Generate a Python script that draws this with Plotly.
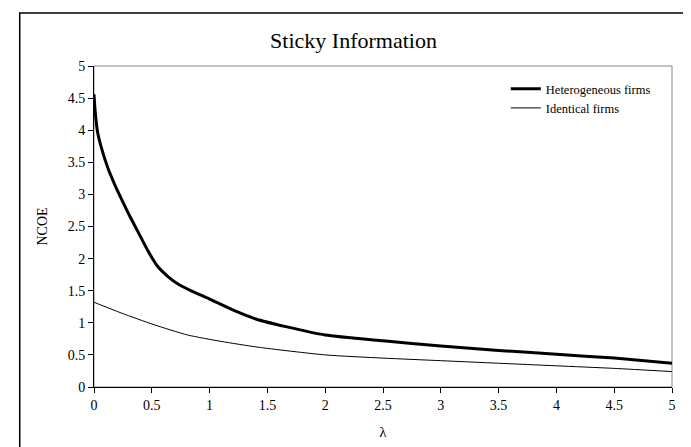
import plotly.graph_objects as go

lam_het = [0, 0.01, 0.03, 0.065, 0.12, 0.18, 0.24, 0.31, 0.38, 0.47, 0.55, 0.64, 0.73,
           0.85, 1.0, 1.2, 1.4, 1.66, 2.0, 2.5, 3.0, 3.5, 4.0, 4.5, 5.0]
ncoe_het = [4.56, 4.3, 3.98, 3.72, 3.41, 3.15, 2.92, 2.66, 2.42, 2.11, 1.88, 1.72, 1.6,
            1.49, 1.37, 1.2, 1.06, 0.94, 0.81, 0.72, 0.64, 0.57, 0.51, 0.45, 0.37]

lam_id = [0, 0.24, 0.52, 0.81, 1.1, 1.42, 2.0, 2.5, 3.0, 3.5, 4.0, 4.5, 5.0]
ncoe_id = [1.32, 1.15, 0.97, 0.81, 0.71, 0.62, 0.50, 0.45, 0.41, 0.37, 0.33, 0.29, 0.24]

x_ticks = [0, 0.5, 1, 1.5, 2, 2.5, 3, 3.5, 4, 4.5, 5]
y_ticks = [0, 0.5, 1, 1.5, 2, 2.5, 3, 3.5, 4, 4.5, 5]

font_family = "Liberation Serif, Times New Roman, serif"

fig = go.Figure()
fig.add_trace(go.Scatter(x=lam_het, y=ncoe_het, mode="lines", name="Heterogeneous firms",
                         line=dict(color="black", width=3, shape="spline", smoothing=0.6)))
fig.add_trace(go.Scatter(x=lam_id, y=ncoe_id, mode="lines", name="Identical firms",
                         line=dict(color="black", width=1, shape="spline", smoothing=0.6)))

fig.update_layout(
    width=691, height=447,
    margin=dict(l=86, r=27, t=58, b=68),
    paper_bgcolor="white", plot_bgcolor="white",
    font=dict(family=font_family, size=14, color="black"),
    title=dict(text="Sticky Information", x=0.5, xref="container", y=0.928, yref="container",
               xanchor="center", yanchor="middle", font=dict(size=22, family=font_family)),
    showlegend=True,
    legend=dict(x=0.972, y=0.975, xanchor="right", yanchor="top", bgcolor="rgba(0,0,0,0)",
                font=dict(size=12.5, family=font_family), tracegroupgap=0, itemwidth=30),
    xaxis=dict(range=[0, 5], tickvals=x_ticks, ticktext=[str(v) for v in x_ticks],
               showgrid=False, zeroline=False, showline=True, linecolor="black", linewidth=1,
               ticks="outside", ticklen=5, tickcolor="black",
               title=dict(text="λ", standoff=14, font=dict(size=15))),
    yaxis=dict(range=[0, 5], tickvals=y_ticks, ticktext=[str(v) for v in y_ticks],
               showgrid=False, zeroline=False, showline=True, linecolor="black", linewidth=1,
               ticks="outside", ticklen=5, tickcolor="black",
               title=dict(text="NCOE", standoff=16, font=dict(size=14))),
    shapes=[
        dict(type="rect", xref="paper", yref="paper", x0=0, x1=1, y0=0, y1=1,
             line=dict(color="#888888", width=1), layer="below"),
        dict(type="rect", xref="paper", yref="paper", x0=-0.1285, x1=1.031, y0=-0.25, y1=1.165,
             line=dict(color="black", width=1.5), layer="below"),
    ],
)

fig.write_html("out.html")
